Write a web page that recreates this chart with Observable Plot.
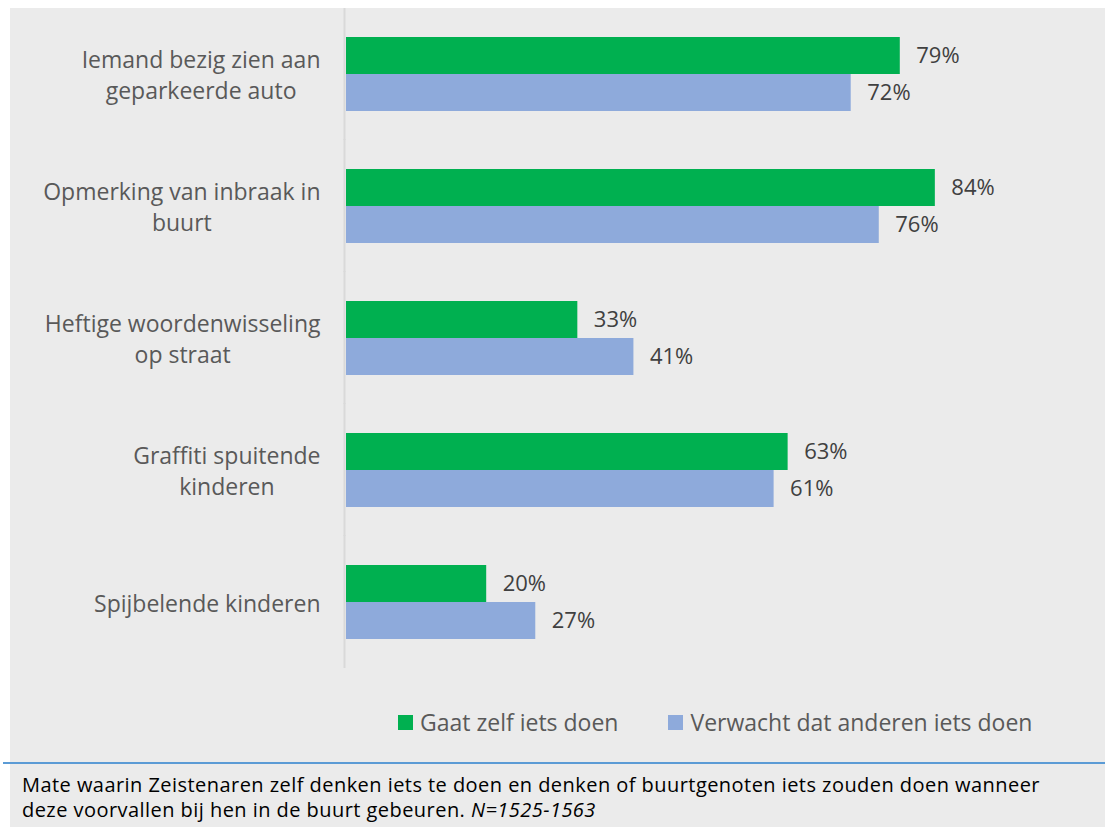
<!DOCTYPE html>
<html>
<head>
<meta charset="utf-8">
<script src="https://cdn.jsdelivr.net/npm/d3@7"></script>
<script src="https://cdn.jsdelivr.net/npm/@observablehq/plot@0.6"></script>
<style>
  html, body { margin: 0; padding: 0; background: #ffffff; }
  body { width: 1105px; height: 827px; position: relative; overflow: hidden; font-family: "Open Sans", "Noto Sans", sans-serif; }
  #panel { position: absolute; left: 10px; top: 8px; width: 1095px; height: 819px; background: #ebebeb; }
  #chart { position: absolute; left: 0; top: 0; }
  #legend { position: absolute; left: 388px; top: 699px; height: 30px; display: flex; align-items: center; font-size: 23px; color: #595959; white-space: nowrap; }
  #legend .sw { width: 15px; height: 15px; display: inline-block; margin-right: 7px; }
  #legend .item { display: flex; align-items: center; margin-right: 50px; }
  #rule { position: absolute; left: 3px; top: 762px; width: 1102px; height: 2px; background: #5b9bd5; }
  #caption { position: absolute; left: 22px; top: 772px; font-size: 20px; letter-spacing: 0.45px; line-height: 25px; color: #000; white-space: nowrap; }
</style>
</head>
<body>
<div id="panel">
  <div id="chart"></div>
  <div id="legend"></div>
</div>
<div id="rule"></div>
<div id="caption">Mate waarin Zeistenaren zelf denken iets te doen en denken of buurtgenoten iets zouden doen wanneer<br>deze voorvallen bij hen in de buurt gebeuren. <i>N=1525-1563</i></div>
<script>
const categories = [
  "Iemand bezig zien aan\ngeparkeerde auto",
  "Opmerking van inbraak in\nbuurt",
  "Heftige woordenwisseling\nop straat",
  "Graffiti spuitende\nkinderen",
  "Spijbelende kinderen"
];
const series = ["Gaat zelf iets doen", "Verwacht dat anderen iets doen"];
const selfValues = [79, 84, 33, 63, 20];
const othersValues = [72, 76, 41, 61, 27];
const seriesColors = ["#00b050", "#8eaadb"];

const data = categories.flatMap((c, i) => [
  {cat: c, series: series[0], value: selfValues[i]},
  {cat: c, series: series[1], value: othersValues[i]}
]);

const labelFont = 23;
const ctx = document.createElement("canvas").getContext("2d");
ctx.font = `${labelFont}px "Open Sans"`;
const blockWidth = c => Math.max(...c.split("\n").map(s => ctx.measureText(s).width));

const chart = Plot.plot({
  width: 1095,
  height: 660,
  marginLeft: 336,
  marginRight: 58,
  marginTop: 0,
  marginBottom: 0,
  style: {background: "transparent", fontFamily: "'Open Sans', sans-serif"},
  x: {domain: [0, 100], axis: null},
  y: {domain: series, axis: null, padding: 0},
  fy: {domain: categories, axis: null, paddingInner: 0.43, paddingOuter: 0.215},
  color: {domain: series, range: seriesColors},
  marks: [
    Plot.ruleX([0], {stroke: "#d9d9d9", strokeWidth: 2, dx: -2, insetTop: -29, insetBottom: -29}),
    Plot.barX(data, {x: "value", y: "series", fy: "cat", fill: "series"}),
    Plot.text(data, {x: "value", y: "series", fy: "cat", text: d => d.value + "%", dx: 16, textAnchor: "start", fill: "#404040", fontSize: 22}),
    ...categories.map(c => Plot.text([c], {
      fy: d => d, frameAnchor: "left", text: d => d,
      dx: -(26 + blockWidth(c) / 2), textAnchor: "middle", lineAnchor: "middle",
      lineHeight: 1.35, fill: "#595959", fontSize: labelFont
    }))
  ]
});
document.getElementById("chart").appendChild(chart);

const legend = document.getElementById("legend");
series.forEach((s, i) => {
  const item = document.createElement("span");
  item.className = "item";
  const sw = document.createElement("span");
  sw.className = "sw";
  sw.style.background = seriesColors[i];
  item.appendChild(sw);
  item.appendChild(document.createTextNode(s));
  legend.appendChild(item);
});
</script>
</body>
</html>
